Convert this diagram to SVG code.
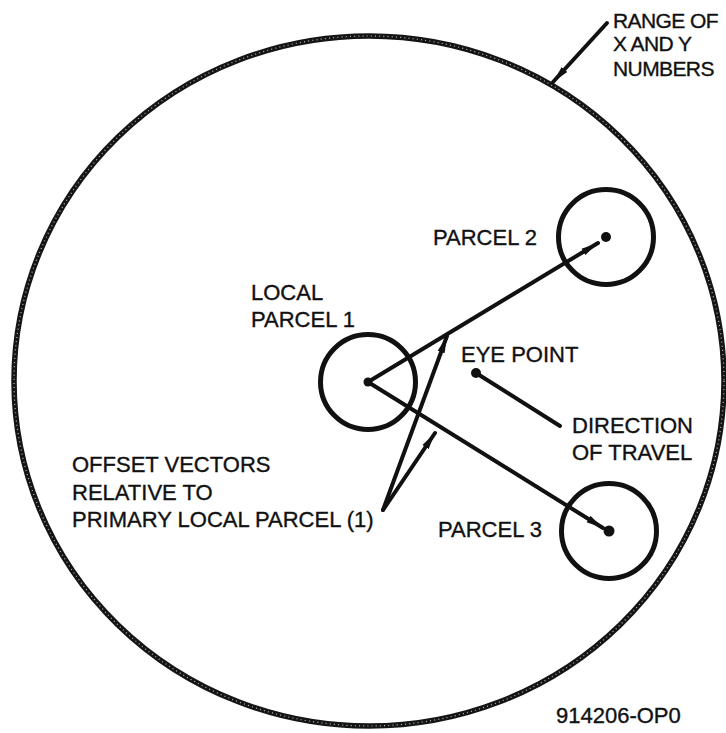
<svg xmlns="http://www.w3.org/2000/svg" width="726" height="733" viewBox="0 0 726 733">
<style>
.t{font-family:"Liberation Sans",Arial,sans-serif;font-size:22px;fill:#111;stroke:#111;stroke-width:0.35}
.ring{fill:none;stroke:#111;stroke-width:5}
.ln{fill:none;stroke:#111;stroke-width:4;stroke-linecap:round}
.dot{fill:#111}
</style>
<defs>
<marker id="ah" markerUnits="userSpaceOnUse" markerWidth="20" markerHeight="10" refX="17" refY="4.5" orient="auto">
<path d="M0,0.8 L17,4.5 L0,8.2 z" fill="#111"/>
</marker>
</defs>
<rect width="726" height="733" fill="#fff"/>
<g id="range">
<ellipse cx="369" cy="381" rx="355" ry="345" fill="none" stroke="#151515" stroke-width="5.5"/>
<ellipse cx="369" cy="381" rx="355" ry="345" fill="none" stroke="#fff" stroke-width="1.2" stroke-dasharray="1 3.2" opacity="0.7"/>
</g>
<g id="range-label">
<text class="t" x="613" y="28" style="font-size:21px;letter-spacing:-0.6px">RANGE OF</text>
<text class="t" x="613" y="51" style="font-size:21px;letter-spacing:-0.6px">X AND Y</text>
<text class="t" x="613" y="76" style="font-size:21px;letter-spacing:-0.6px">NUMBERS</text>
</g>
<g id="parcel1">
<circle class="ring" cx="368" cy="382" r="47.5"/>
<circle class="dot" cx="368" cy="382" r="4.5"/>
<text class="t" x="251" y="300">LOCAL</text>
<text class="t" x="251" y="327">PARCEL 1</text>
</g>
<g id="parcel2">
<circle class="ring" cx="606" cy="237" r="47.5"/>
<circle class="dot" cx="606" cy="237" r="5"/>
<text class="t" x="433" y="245">PARCEL 2</text>
</g>
<g id="parcel3">
<circle class="ring" cx="609" cy="531" r="47.5"/>
<circle class="dot" cx="609" cy="531" r="5.5"/>
<text class="t" x="438" y="537">PARCEL 3</text>
</g>
<g id="eyepoint">
<circle class="dot" cx="476" cy="373" r="5"/>
<text class="t" x="461" y="362">EYE POINT</text>
</g>
<g id="direction-label">
<text class="t" x="572" y="433">DIRECTION</text>
<text class="t" x="572" y="460">OF TRAVEL</text>
</g>
<g id="offset-label">
<text class="t" x="72" y="472">OFFSET VECTORS</text>
<text class="t" x="72" y="500">RELATIVE TO</text>
<text class="t" x="72" y="527">PRIMARY LOCAL PARCEL (1)</text>
</g>
<g id="figure-id">
<text class="t" x="556" y="723">914206-OP0</text>
</g>
<g id="connectors">
<line class="ln" x1="368" y1="382" x2="598" y2="243" marker-end="url(#ah)"/>
<line class="ln" x1="368" y1="382" x2="603" y2="528" marker-end="url(#ah)"/>
<line class="ln" x1="383" y1="510" x2="447" y2="336" marker-end="url(#ah)"/>
<line class="ln" x1="383" y1="510" x2="435" y2="433" marker-end="url(#ah)"/>
<line class="ln" x1="476" y1="373" x2="560" y2="426"/>
<line class="ln" x1="607" y1="23" x2="553" y2="82" marker-end="url(#ah)"/>
</g>
</svg>
